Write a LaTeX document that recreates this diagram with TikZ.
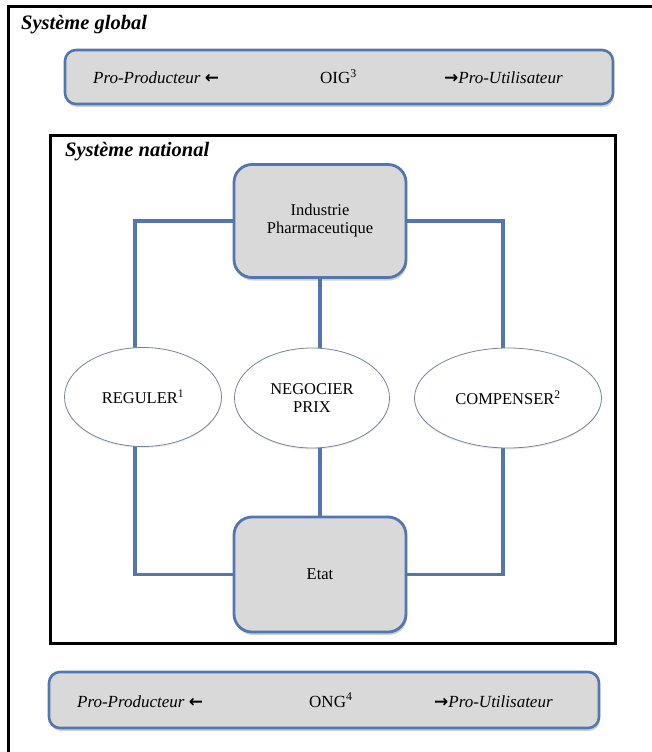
\documentclass[tikz,border=0pt]{standalone}
\usepackage{fontspec}
\setmainfont{Liberation Serif}
\newfontfamily\arrowfont{DejaVu Sans}
\usetikzlibrary{shapes.geometric,shadows}
\definecolor{bblue}{RGB}{82,118,176}
\definecolor{bgray}{RGB}{217,217,217}
\definecolor{eborder}{RGB}{118,132,158}
\pgfdeclarelayer{back}
\pgfdeclarelayer{bg}
\pgfsetlayers{back,bg,main}
\begin{document}
\begin{tikzpicture}[x=1pt,y=-1pt,
  softshadow/.style={drop shadow={shadow xshift=1pt,shadow yshift=-3pt,opacity=0.3,fill=black!60}},
  band/.style={draw=bblue,line width=2.6pt,fill=bgray,rounded corners=11pt,inner sep=0pt,softshadow},
  boxnode/.style={draw=bblue,line width=2.8pt,fill=bgray,rounded corners=18pt,inner sep=0pt,
    minimum width=172pt,align=center,font=\fontsize{16.5}{18}\selectfont,softshadow},
  ell/.style={ellipse,draw=eborder,line width=0.8pt,fill=white,inner sep=0pt,align=center,
    font=\fontsize{16.5}{18}\selectfont,drop shadow={shadow xshift=0pt,shadow yshift=-1.5pt,opacity=0.15,fill=black!50}},
  bandtext/.style={font=\fontsize{17}{20}\selectfont,inner sep=0pt,anchor=base west},
  title/.style={font=\fontsize{20.5}{23}\selectfont\bfseries\itshape,inner sep=0pt,anchor=base west},
  frame/.style={draw=black,line width=3pt,fill=white,inner sep=0pt,
    drop shadow={shadow xshift=2pt,shadow yshift=-2pt,opacity=0.25,fill=black!60}},
  conn/.style={draw=bblue,line width=3.4pt}]
\useasboundingbox (0,0) rectangle (651,752);
\begin{pgfonlayer}{back}
\fill[white] (0,0) rectangle (651,752);
% outer frame (only top and left edges visible)
\draw[line width=3pt,line cap=rect] (8,760) -- (8,7) -- (660,7);
% national frame
\node[frame,minimum width=565pt,minimum height=508pt] (nat) at (332.5,389) {};
\end{pgfonlayer}
\node[title] (tglob) at (21,30) {Système global};
% global band
\node[band,minimum width=548pt,minimum height=54pt] (oig) at (339,77) {};
\node[bandtext] (oigl) at (93,84) {\itshape Pro-Producteur {\arrowfont\bfseries ←}};
\node[bandtext] (oigc) at (320,84) {OIG\textsuperscript{3}};
\node[bandtext] (oigr) at (444,84) {{\arrowfont\bfseries →}\itshape Pro-Utilisateur};
\node[title] (tnat) at (65,156) {Système national};
% nodes
\node[boxnode,minimum height=113pt] (ind) at (320,221) {Industrie\\Pharmaceutique};
\node[boxnode,minimum height=115pt] (etat) at (320,574.5) {Etat};
\node[ell,minimum width=157pt,minimum height=99pt] (reg) at (143,397) {REGULER\textsuperscript{1}};
\node[ell,minimum width=155pt,minimum height=100pt] (neg) at (312,398) {NEGOCIER\\PRIX};
\node[ell,minimum width=187pt,minimum height=100pt] (comp) at (508,398) {COMPENSER\textsuperscript{2}};
% connectors
\begin{pgfonlayer}{bg}
\draw[conn] (ind.west) -| ([xshift=-8pt]reg.center) |- (etat.west);
\draw[conn] (ind.east) -| ([xshift=-5pt]comp.center) |- (etat.east);
\draw[conn] (ind.south) -- (etat.north);
\end{pgfonlayer}
% NGO band
\node[band,minimum width=550pt,minimum height=56pt] (ong) at (324,700) {};
\node[bandtext] (ongl) at (77,707) {\itshape Pro-Producteur {\arrowfont\bfseries ←}};
\node[bandtext] (ongc) at (309,707) {ONG\textsuperscript{4}};
\node[bandtext] (ongr) at (434,707) {{\arrowfont\bfseries →}\itshape Pro-Utilisateur};
\end{tikzpicture}
\end{document}
